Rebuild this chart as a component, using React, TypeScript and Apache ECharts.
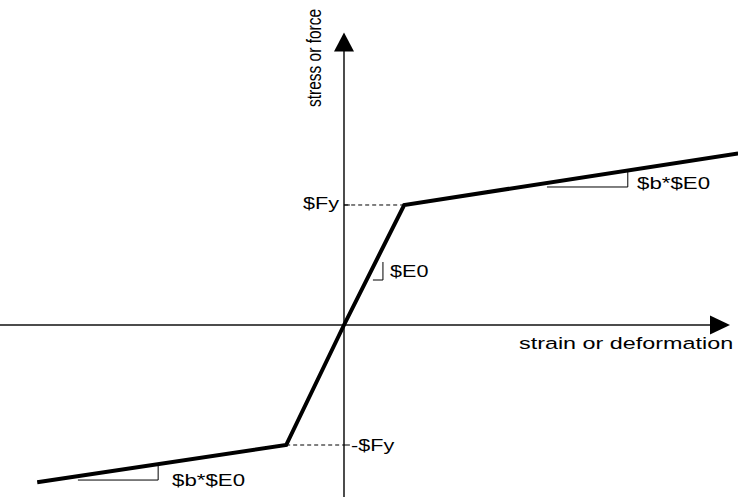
import React, { useEffect, useRef } from "react";
import * as echarts from "echarts";

// Backbone of the bilinear material (strain in units of yield strain, stress in units of Fy)
const strainPts = [-5.2, -0.98, 0, 1.02, 6.68];
const stressPts = [-1.31, -1.0, 0, 1.0, 1.43];

// Yield-level guide lines (dashed)
const posYieldX = [1.02, 0];
const posYieldY = [1.0, 1.0];
const negYieldX = [-0.98, 0];
const negYieldY = [-1.0, -1.0];

// Small ticks on the stress axis at +/-Fy
const tickX = [0, 0.1];

// Slope triangles
const triE0X = [0.49, 0.66, 0.66];
const triE0Y = [0.375, 0.375, 0.525];
const triUpX = [3.44, 4.81, 4.81];
const triUpY = [1.15, 1.15, 1.28];
const triLoX = [-4.51, -3.15, -3.15];
const triLoY = [-1.292, -1.292, -1.175];

// Axis extents (start, arrow position)
const strainAxisX = [-5.8305, 6.373];
const stressAxisY = [-1.4333, 2.358];

// Labels
const labelFy = "$Fy";
const labelNegFy = "-$Fy";
const labelE0 = "$E0";
const labelBE0 = "$b*$E0";
const xTitle = "strain or deformation";
const yTitle = "stress or force";

const zip = (xs: number[], ys: number[]) => xs.map((x, i) => [x, ys[i]]);

export default function App() {
  const ref = useRef<HTMLDivElement>(null);
  useEffect(() => {
    if (!ref.current) return;
    const chart = echarts.init(ref.current, undefined, { renderer: "svg" });
    const S = 1.35;
    const font = "Liberation Sans, Arial, sans-serif";
    const txt = (text: string, x: number, y: number, align: string, size = 16) => ({
      type: "text",
      x,
      y,
      scaleX: S,
      silent: true,
      style: {
        text,
        fontSize: size,
        fontFamily: font,
        fill: "#000",
        align,
        verticalAlign: "middle",
        textAlign: align,
        textVerticalAlign: "middle",
      },
    });
    const thin = (name: string, xs: number[], ys: number[], type: any = "solid", width = 1, color = "#000") => ({
      name,
      type: "line",
      data: zip(xs, ys),
      symbol: "none",
      silent: true,
      lineStyle: { color, width, type },
      z: 3,
    });
    chart.setOption({
      animation: false,
      backgroundColor: "#fff",
      grid: { left: 0, right: 0, top: 0, bottom: 0 },
      xAxis: { type: "value", min: -5.8305, max: 6.678, show: false },
      yAxis: { type: "value", min: -1.4333, max: 2.7083, show: false },
      series: [
        thin("strainAxis", strainAxisX, [0, 0], "solid", 1.5, "#111"),
        thin("stressAxis", [0, 0], stressAxisY, "solid", 1.5, "#111"),
        {
          name: "arrowX",
          type: "scatter",
          data: [[strainAxisX[1], 0]],
          symbol: "triangle",
          symbolRotate: -90,
          symbolSize: [19, 20],
          itemStyle: { color: "#000", opacity: 1 },
          silent: true,
          z: 4,
        },
        {
          name: "arrowY",
          type: "scatter",
          data: [[0, stressAxisY[1]]],
          symbol: "triangle",
          symbolSize: [20, 19],
          itemStyle: { color: "#000", opacity: 1 },
          silent: true,
          z: 4,
        },
        thin("posYield", posYieldX, posYieldY, [4, 3]),
        thin("negYield", negYieldX, negYieldY, [4, 3]),
        thin("tickPos", tickX, [1.0, 1.0]),
        thin("tickNeg", tickX, [-1.0, -1.0]),
        thin("triE0", triE0X, triE0Y),
        thin("triUp", triUpX, triUpY),
        thin("triLo", triLoX, triLoY),
        {
          name: "backbone",
          type: "line",
          data: zip(strainPts, stressPts),
          symbol: "none",
          silent: true,
          lineStyle: { color: "#000", width: 4, join: "miter" },
          z: 5,
        },
      ],
      graphic: [
        txt(labelFy, 339, 204, "right"),
        txt(labelNegFy, 351, 446, "left"),
        txt(labelE0, 390, 272, "left"),
        txt(labelBE0, 637, 183, "left", 16.5),
        txt(labelBE0, 172, 480, "left", 16.5),
        txt(xTitle, 519, 343, "left", 17.3),
        {
          type: "text",
          x: 314,
          y: 58,
          rotation: Math.PI / 2,
          scaleY: S,
          silent: true,
          style: {
            text: yTitle,
            fontSize: 15.5,
            fontFamily: font,
            fill: "#000",
            align: "center",
            verticalAlign: "middle",
            textAlign: "center",
            textVerticalAlign: "middle",
          },
        },
      ],
    });
    return () => chart.dispose();
  }, []);
  return (
    <div
      ref={ref}
      style={{ position: "absolute", left: 0, top: 0, width: 738, height: 497, background: "#fff" }}
    />
  );
}
